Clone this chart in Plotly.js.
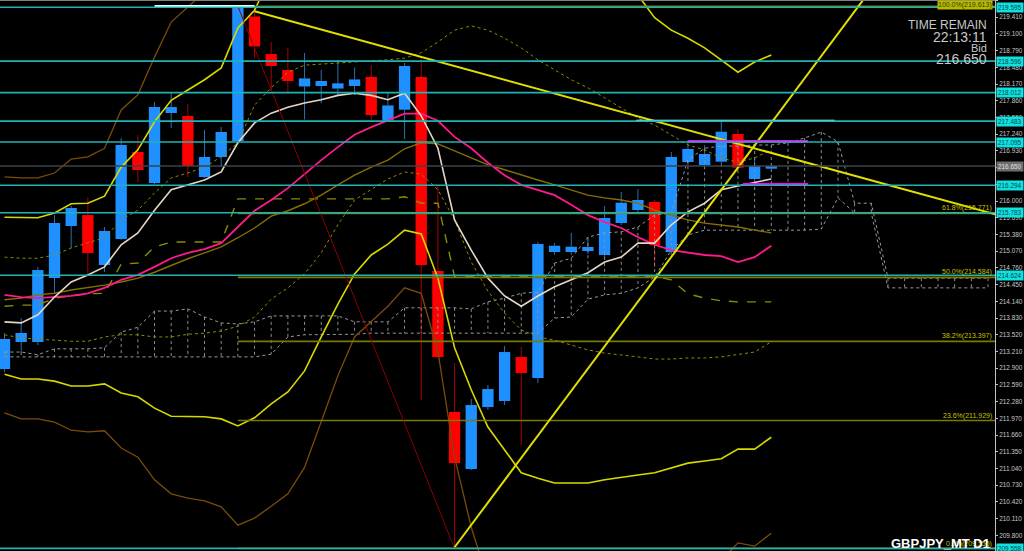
<!DOCTYPE html>
<html>
<head>
<meta charset="utf-8">
<script src="https://cdn.plot.ly/plotly-3.0.1.min.js"></script>
<style>
  html, body { margin: 0; padding: 0; background: #000; }
  #chart { width: 1024px; height: 551px; }
</style>
</head>
<body>
<div id="chart"></div>
<script>
// GBPJPY D1 daily candles, oldest first
const opens  = [212.885, 213.386, 213.386, 214.573, 215.537, 215.741, 214.814, 215.296, 216.910, 216.335,
                217.633, 217.578, 216.446, 216.817, 217.114, 219.423, 218.727, 218.431, 218.125, 218.134,
                218.086, 218.134, 218.301, 217.492, 217.694, 218.301, 214.703, 212.088, 211.030, 212.180,
                212.292, 213.108, 212.718, 215.055, 215.055, 215.074, 215.000, 215.593, 215.834, 215.982,
                215.055, 216.724, 216.669, 216.730, 217.244, 216.409, 216.600];
const highs  = [213.553, 213.831, 214.777, 215.741, 215.908, 216.075, 215.519, 217.170, 217.225, 217.837,
                218.004, 217.800, 217.318, 217.374, 219.613, 219.599, 218.950, 218.839, 218.746, 218.431,
                218.616, 218.477, 218.523, 218.004, 218.561, 218.653, 216.279, 212.996, 212.329, 212.588,
                213.312, 213.293, 215.241, 215.222, 215.408, 215.278, 215.908, 216.168, 216.224, 216.020,
                216.910, 217.132, 217.040, 217.466, 217.336, 216.799, 216.680];
const lows   = [212.829, 213.200, 213.330, 214.295, 215.129, 214.628, 214.684, 215.278, 216.353, 216.316,
                217.355, 216.446, 216.428, 216.632, 217.095, 218.653, 218.041, 218.023, 217.513, 217.819,
                217.967, 217.967, 217.485, 217.485, 217.151, 212.310, 213.090, 209.555, 211.010, 212.125,
                212.217, 211.476, 212.626, 215.000, 215.000, 215.018, 214.944, 215.556, 215.797, 214.777,
                215.000, 216.669, 216.632, 216.687, 216.576, 216.372, 216.595];
const closes = [213.442, 213.553, 214.721, 215.593, 215.871, 215.037, 215.445, 217.040, 216.576, 217.744,
                217.744, 216.650, 216.817, 217.281, 219.580, 218.868, 218.505, 218.227, 218.275, 218.227,
                218.184, 218.256, 217.596, 217.774, 218.505, 214.814, 213.108, 211.142, 212.217, 212.514,
                213.200, 212.811, 215.204, 215.172, 215.153, 215.148, 215.686, 215.970, 216.020, 215.185,
                216.817, 216.966, 216.873, 217.286, 216.619, 216.650, 216.650];

// indicator lines, one value per candle
const maFast   = [213.76, 213.74, 213.89, 214.22, 214.50, 214.63, 214.78, 215.19, 215.41, 215.83,
                  216.21, 216.30, 216.39, 216.54, 217.08, 217.45, 217.63, 217.74, 217.82, 217.88,
                  217.96, 218.00, 217.96, 217.88, 218.00, 217.58, 216.98, 215.65, 215.09, 214.57,
                  214.24, 214.05, 214.24, 214.41, 214.54, 214.67, 214.87, 214.96, 215.22, 215.22,
                  215.56, 215.80, 215.96, 216.21, 216.28, 216.34, 216.41];
const maMid    = [214.26, 214.22, 214.20, 214.22, 214.24, 214.29, 214.39, 214.54, 214.63, 214.78,
                  214.94, 215.04, 215.11, 215.22, 215.52, 215.82, 216.02, 216.24, 216.50, 216.76,
                  217.00, 217.23, 217.37, 217.49, 217.62, 217.62, 217.49, 217.19, 216.98, 216.71,
                  216.48, 216.30, 216.21, 216.11, 215.93, 215.74, 215.61, 215.50, 215.33, 215.19,
                  215.09, 215.04, 215.00, 214.98, 214.87, 214.96, 215.17];
const maSlow   = [214.17, 214.20, 214.26, 214.29, 214.35, 214.39, 214.44, 214.50, 214.57, 214.68,
                  214.81, 214.93, 215.04, 215.15, 215.32, 215.50, 215.72, 215.82, 215.95, 216.11,
                  216.30, 216.48, 216.63, 216.76, 216.97, 217.08, 217.06, 216.93, 216.80, 216.67,
                  216.58, 216.48, 216.39, 216.30, 216.21, 216.11, 216.06, 216.02, 215.96, 215.83,
                  215.74, 215.65, 215.59, 215.56, 215.52, 215.46, 215.41];
const bandUp2  = [215.70, 215.69, 215.69, 215.78, 215.95, 215.96, 216.09, 216.63, 216.95, 217.47,
                  217.87, 218.06, 218.25, 218.47, 219.21, 219.54, 220.19, null, null, null,
                  null, null, null, null, null, null, null, null, null, null,
                  null, null, null, null, null, null, null, null, 219.82, 219.40,
                  219.17, 219.02, 218.84, 218.62, 218.39, 218.58, 218.71];
const bandLo2  = [212.79, 212.70, 212.70, 212.66, 212.57, 212.57, 212.61, 212.44, 212.37, 212.16,
                  212.01, 212.01, 212.00, 211.96, 211.83, 211.98, 212.24, 212.46, 212.85, 213.48,
                  214.09, 214.65, 215.00, 215.20, 215.46, 215.39, 214.57, 213.28, 212.50, 211.81,
                  211.38, 210.96, 210.86, 210.77, 210.77, 210.77, 210.83, 210.88, 210.92, 210.96,
                  211.05, 211.14, 211.18, 211.22, 211.40, 211.40, 211.62];
const bandUp3  = [216.45, 216.43, 216.43, 216.52, 216.78, 216.82, 216.98, 217.69, 217.97, 218.67,
                  219.32, 219.60, 219.88];
const bandLo3  = [212.07, 211.96, 211.96, 211.90, 211.75, 211.72, 211.74, 211.42, 211.25, 210.83,
                  210.57, 210.49, 210.44, 210.33, 209.99, 210.12, 210.34, 210.57, 211.06, 211.90,
                  212.76, 213.48, 213.76, 214.05, 214.39, 214.29, 213.21, 211.25, 209.95, 208.97,
                  null, null, null, null, null, null, null, null, null, null,
                  null, null, null, 209.34, 209.66, 209.60, 209.84];
const bandUp1  = [214.96, 214.94, 214.94, 215.00, 215.13, 215.22, 215.32, 215.65, 215.83, 216.15,
                  216.43, 216.52, 216.63, 216.82, 217.08, 217.78, 218.10, 218.39, 218.52, 218.54,
                  218.56, 218.58, 218.59, 218.62, 218.65, 218.75, 218.95, 219.17, 219.25, 219.17,
                  219.02, 218.84, 218.62, 218.43, 218.25, 218.10, 217.91, 217.73, 217.54, 217.41,
                  217.23, 217.04, 216.95, 216.80, 216.72, 216.80, 216.95];
const bandLo1  = [213.52, 213.46, 213.44, 213.42, 213.40, 213.40, 213.48, 213.52, 213.52, 213.48,
                  213.48, 213.53, 213.55, 213.59, 213.68, 213.85, 214.18, 214.39, 214.65, 215.04,
                  215.56, 216.02, 216.21, 216.41, 216.54, 216.50, 216.21, 215.65, 214.87, 214.33,
                  213.92, 213.61, 213.48, 213.42, 213.33, 213.24, 213.18, 213.15, 213.11, 213.07,
                  213.07, 213.09, 213.09, 213.11, 213.15, 213.20, 213.39];
const kijun    = [214.05, 214.07, 214.07, 214.20, 214.24, 214.28, 214.29, 214.83, 214.85, 215.15,
                  215.24, 215.24, 215.24, 215.24, 216.04, 216.04, 216.04, 216.04, 216.04, 216.04,
                  216.04, 216.04, 216.04, 216.04, 216.08, 215.96, 215.96, 214.60, 214.60, 214.60,
                  214.60, 214.60, 214.60, 214.60, 214.60, 214.60, 214.60, 214.60, 214.60, 214.60,
                  214.54, 214.28, 214.20, 214.15, 214.13, 214.13, 214.13];

// ichimoku cloud, runs 13 bars past the last candle
const spanA = [213.20, 213.20, 213.15, 213.26, 213.26, 213.26, 213.28, 213.57, 213.66, 213.96,
               213.96, 214.00, 213.85, 213.74, 213.72, 213.76, 213.87, 213.87, 213.87, 213.87,
               213.87, 213.76, 213.76, 213.76, 214.02, 214.02, 214.02, 214.02, 214.00, 214.13,
               214.20, 214.29, 214.31, 214.85, 214.94, 215.33, 215.41, 215.43, 215.52, 215.74,
               215.78, 216.76, 216.98, 217.02, 217.02, 217.04, 217.04, 217.08, 217.17, 217.28,
               217.10, 215.96, 215.96, 214.57, 214.57, 214.57, 214.57, 214.57, 214.57, 214.57];
const spanB = [213.11, 213.11, 213.11, 213.11, 213.11, 213.11, 213.11, 213.11, 213.11, 213.11,
               213.11, 213.11, 213.11, 213.11, 213.11, 213.11, 213.16, 213.48, 213.52, 213.52,
               213.53, 213.53, 213.55, 213.55, 213.55, 213.55, 213.55, 213.55, 213.55, 213.55,
               213.55, 213.55, 213.55, 213.83, 213.85, 214.18, 214.26, 214.29, 214.39, 214.59,
               215.09, 215.37, 215.46, 215.46, 215.46, 215.46, 215.46, 215.46, 215.46, 215.48,
               216.06, 215.78, 215.78, 214.39, 214.39, 214.39, 214.39, 214.39, 214.39, 214.39];

// drawn objects
const levels      = [219.595, 218.596, 218.012, 217.483, 217.095, 216.294, 215.783, 214.624, 209.558];
const bidPrice    = 216.650;
const fibPct      = ['100.0%', '61.8%', '50.0%', '38.2%', '23.6%', '0.0%'];
const fibPrice    = [219.613, 215.771, 214.584, 213.397, 211.929, 209.555];
const fibStart    = 14;
const trendDownX  = [15, 59.6];
const trendDownY  = [219.52, 215.74];
const trendUpX    = [27, 51.8];
const trendUpY    = [209.58, 219.85];
const fibDiagX    = [14, 27];
const fibDiagY    = [219.613, 209.555];
const whiteSegX   = [[9, 15], [37.9, 49.8]];
const whiteSegY   = [219.62, 217.49];
const pinkSegX    = [[41, 48.2], [44.3, 48.2]];
const pinkSegY    = [217.11, 216.31];

const tickLabels = ['219.720', '219.410', '219.100', '218.790', '218.480', '218.170', '217.860',
  '217.550', '217.240', '216.930', '216.620', '216.310', '216.000', '215.690', '215.380',
  '215.070', '214.760', '214.450', '214.140', '213.830', '213.520', '213.210', '212.900',
  '212.590', '212.280', '211.970', '211.660', '211.350', '211.040', '210.730', '210.420',
  '210.110', '209.800'];

const FONT = 'Liberation Sans, Arial, sans-serif';
const PLOT_W = 995;

function line(x, y, color, width, dash) {
  return {type: 'scatter', mode: 'lines', x: x, y: y, hoverinfo: 'skip',
          line: {color: color, width: width, dash: dash || 'solid'}};
}

// candle bodies and wicks
let bullX = [], bullBase = [], bullH = [];
let bearX = [], bearBase = [], bearH = [];
let bullWx = [], bullWy = [], bearWx = [], bearWy = [];
for (let i = 0; i < opens.length; i++) {
  const top = Math.max(opens[i], closes[i]);
  const bot = Math.min(opens[i], closes[i]);
  const bull = closes[i] >= opens[i];
  const wx = bull ? bullWx : bearWx;
  const wy = bull ? bullWy : bearWy;
  wx.push(i, i, null, i, i, null);
  wy.push(top, highs[i], null, lows[i], bot, null);
  if (bull) { bullX.push(i); bullBase.push(bot); bullH.push(Math.max(top - bot, 0.02)); }
  else { bearX.push(i); bearBase.push(bot); bearH.push(Math.max(top - bot, 0.02)); }
}

const idx = maFast.map((_, i) => i);
const cloudX = spanA.map((_, i) => i);

let data = [
  {type: 'bar', x: bullX, y: bullH, base: bullBase, width: 0.68, marker: {color: '#1E90FF', line: {width: 0}}, hoverinfo: 'skip'},
  {type: 'bar', x: bearX, y: bearH, base: bearBase, width: 0.68, marker: {color: '#FF0000', line: {width: 0}}, hoverinfo: 'skip'},
  line(bullWx, bullWy, '#2a6fb0', 1),
  line(bearWx, bearWy, '#a80000', 1)
];

// cloud hatch
let hx = [], hy = [];
for (let i = 0; i < spanA.length; i++) { hx.push(i, i, null); hy.push(spanA[i], spanB[i], null); }
data.push(line(hx, hy, '#8c8c8c', 1, 'dot'));
data.push(line(cloudX, spanA, '#9a9a9a', 1, 'dot'));
data.push(line(cloudX, spanB, '#9a9a9a', 1, 'dot'));

// bands and averages
data.push(line(idx, bandUp3, '#7a4c08', 1.3));
data.push(line(idx, bandLo3, '#7a4c08', 1.3));
data.push(line(idx, bandUp1, '#8c8c00', 1, 'dot'));
data.push(line(idx, bandLo1, '#8c8c00', 1, 'dot'));
data.push(line(idx, kijun, '#8c8c00', 1.4, 'dash'));
data.push(line(idx, maSlow, '#857000', 1.4));
data.push(line(idx, bandUp2, '#d8d800', 1.6));
data.push(line(idx, bandLo2, '#d8d800', 1.6));
data.push(line(idx, maMid, '#ff1a8c', 1.8));
data.push(line(idx, maFast, '#e6d6c6', 1.6));

// fibonacci levels and trend lines
let fx = [], fy = [];
fibPrice.forEach(p => { fx.push(fibStart, 60, null); fy.push(p, p, null); });
data.push(line(fx, fy, '#7a7a00', 1.6));
data.push(line(fibDiagX, fibDiagY, '#8b0000', 1));
data.push(line(trendDownX, trendDownY, '#e0e000', 2));
data.push(line(trendUpX, trendUpY, '#e0e000', 2));
whiteSegX.forEach((sx, k) => data.push(line(sx, [whiteSegY[k], whiteSegY[k]], '#e8ffff', 2)));
pinkSegX.forEach((sx, k) => data.push(line(sx, [pinkSegY[k], pinkSegY[k]], '#ff00ff', 2.5)));

// horizontal levels across the whole chart
let shapes = levels.map(p => ({type: 'line', xref: 'paper', x0: 0, x1: 1, yref: 'y', y0: p, y1: p,
  line: {color: '#1fb3b3', width: 1.6}, layer: 'above'}));
shapes.push({type: 'line', xref: 'paper', x0: 0, x1: 1, yref: 'y', y0: bidPrice, y1: bidPrice,
  line: {color: '#3c434a', width: 1.6}, layer: 'above'});
shapes.push({type: 'line', xref: 'paper', x0: 0, x1: 1, yref: 'paper', y0: 1, y1: 1,
  line: {color: '#808080', width: 2}, layer: 'above'});

let annotations = levels.map(p => ({xref: 'paper', x: 1, xanchor: 'left', xshift: 1, yref: 'y', y: p,
  yanchor: 'middle', text: p.toFixed(3), showarrow: false, bgcolor: '#10e0e0', borderpad: 1,
  font: {family: FONT, size: 6.4, color: '#004848'}}));
annotations.push({xref: 'paper', x: 1, xanchor: 'left', xshift: 1, yref: 'y', y: bidPrice,
  yanchor: 'middle', text: bidPrice.toFixed(3), showarrow: false, bgcolor: '#6e6e6e', borderpad: 1,
  font: {family: FONT, size: 6.4, color: '#e0e0e0'}});
fibPct.forEach((t, k) => {
  const top = k === 0;
  annotations.push({xref: 'paper', x: 1, xanchor: 'right', xshift: -2,
    yref: top ? 'paper' : 'y', y: top ? 1 : fibPrice[k], yanchor: top ? 'top' : 'bottom',
    text: t + '(' + fibPrice[k].toFixed(3) + ')', showarrow: false,
    bgcolor: top ? '#b8b800' : 'rgba(0,0,0,0)', borderpad: 0,
    font: {family: FONT, size: 7, color: top ? '#3a3a00' : '#c4c400'}});
});

const info = [['TIME REMAIN', 25.5, 12], ['22:13:11', 37.5, 14], ['Bid', 48, 11], ['216.650', 59.5, 14]];
info.forEach(r => annotations.push({xref: 'paper', x: 989 / PLOT_W, xanchor: 'right', yref: 'paper',
  y: 1 - r[1] / 551, yanchor: 'middle', text: r[0], showarrow: false,
  font: {family: FONT, size: r[2], color: '#c8c8c8'}}));
annotations.push({xref: 'paper', x: 992 / PLOT_W, xanchor: 'right', yref: 'paper', y: 1 - 543 / 551,
  yanchor: 'middle', text: '<b>GBPJPY_MT D1</b>', showarrow: false,
  font: {family: FONT, size: 13, color: '#ffffff'}});

const layout = {
  width: 1024, height: 551,
  margin: {l: 0, r: 1024 - PLOT_W, t: 0, b: 0},
  paper_bgcolor: '#000000', plot_bgcolor: '#000000',
  showlegend: false, barmode: 'overlay',
  xaxis: {range: [-0.27, 59.42], showgrid: false, zeroline: false, showticklabels: false,
          showline: false, ticks: ''},
  yaxis: {range: [209.51, 219.729], side: 'right', showgrid: false, zeroline: false,
          showline: true, linecolor: '#c0c0c0', linewidth: 1, ticks: 'outside', ticklen: 2,
          tickcolor: '#c0c0c0', tickvals: tickLabels.map(Number), ticktext: tickLabels,
          tickfont: {family: FONT, size: 6.4, color: '#c8c8c8'}},
  shapes: shapes,
  annotations: annotations
};

Plotly.newPlot('chart', data, layout, {staticPlot: true});
</script>
</body>
</html>
